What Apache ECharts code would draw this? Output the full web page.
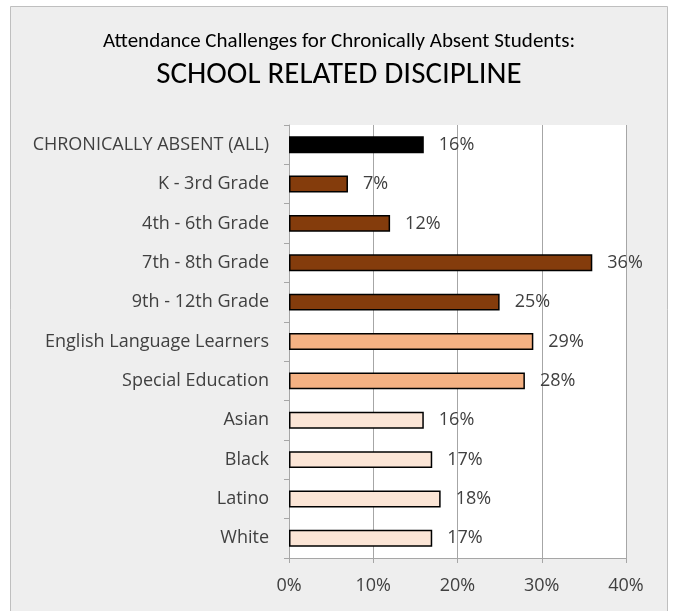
<!DOCTYPE html>
<html><head><meta charset="utf-8">
<script src="https://cdn.jsdelivr.net/npm/echarts@6/dist/echarts.min.js"></script>
<style>html,body{margin:0;padding:0;background:#fff}#c{width:678px;height:611px}</style>
</head><body><div id="c"></div>
<script>
const categories = ["CHRONICALLY ABSENT (ALL)","K - 3rd Grade","4th - 6th Grade","7th - 8th Grade","9th - 12th Grade","English Language Learners","Special Education","Asian","Black","Latino","White"];
const values = [16,7,12,36,25,29,28,16,17,18,17];
const barColors = ["#000000","#843c0c","#843c0c","#843c0c","#843c0c","#f4b183","#f4b183","#fbe5d6","#fbe5d6","#fbe5d6","#fbe5d6"];
const xTicks = [0,10,20,30,40];
const titleFont = "Carlito, Calibri, 'Liberation Sans Narrow', sans-serif";
const font = "'Open Sans', 'Noto Sans', sans-serif";
const chart = echarts.init(document.getElementById('c'));
chart.setOption({
  backgroundColor: '#ffffff',
  animation: false,
  graphic: [{type:'rect', shape:{x:10.5,y:6.5,width:657,height:620}, style:{fill:'#eeeeee',stroke:'#bfbfbf',lineWidth:1}, z:-10}],
  title: [
    {text:'Attendance Challenges for Chronically Absent Students:', left:'center', top:26, textStyle:{fontFamily:titleFont,fontSize:21,fontWeight:'normal',color:'#000'}},
    {text:'SCHOOL RELATED DISCIPLINE', left:'center', top:55, textStyle:{fontFamily:titleFont,fontSize:31,fontWeight:'normal',color:'#000'}}
  ],
  grid: {left:289, right:52, top:125, bottom:53, show:true, backgroundColor:'#ffffff', borderWidth:0},
  xAxis: {type:'value', min:0, max:40, interval:10,
    axisLine:{show:true,lineStyle:{color:'#a6a6a6'}}, axisTick:{show:true,length:5,lineStyle:{color:'#a6a6a6'}},
    splitLine:{show:true,lineStyle:{color:'#a6a6a6'}},
    axisLabel:{formatter:v=>xTicks.includes(v)?v+'%':'', fontFamily:font, fontSize:18, color:'#404040', margin:19}},
  yAxis: {type:'category', data:categories, inverse:true,
    axisLine:{show:true,lineStyle:{color:'#a6a6a6'}}, axisTick:{show:true,length:5,lineStyle:{color:'#a6a6a6'}},
    axisLabel:{fontFamily:font, fontSize:18, color:'#404040', margin:20}},
  series: [{type:'bar', barWidth:'43%',
    data: values.map((v,i)=>({value:v, itemStyle:{color:barColors[i]}})),
    itemStyle:{borderColor:'#000',borderWidth:1.5},
    label:{show:true, position:'right', distance:15, formatter:p=>p.value+'%', fontFamily:font, fontSize:18, color:'#404040'}}]
});
</script></body></html>
